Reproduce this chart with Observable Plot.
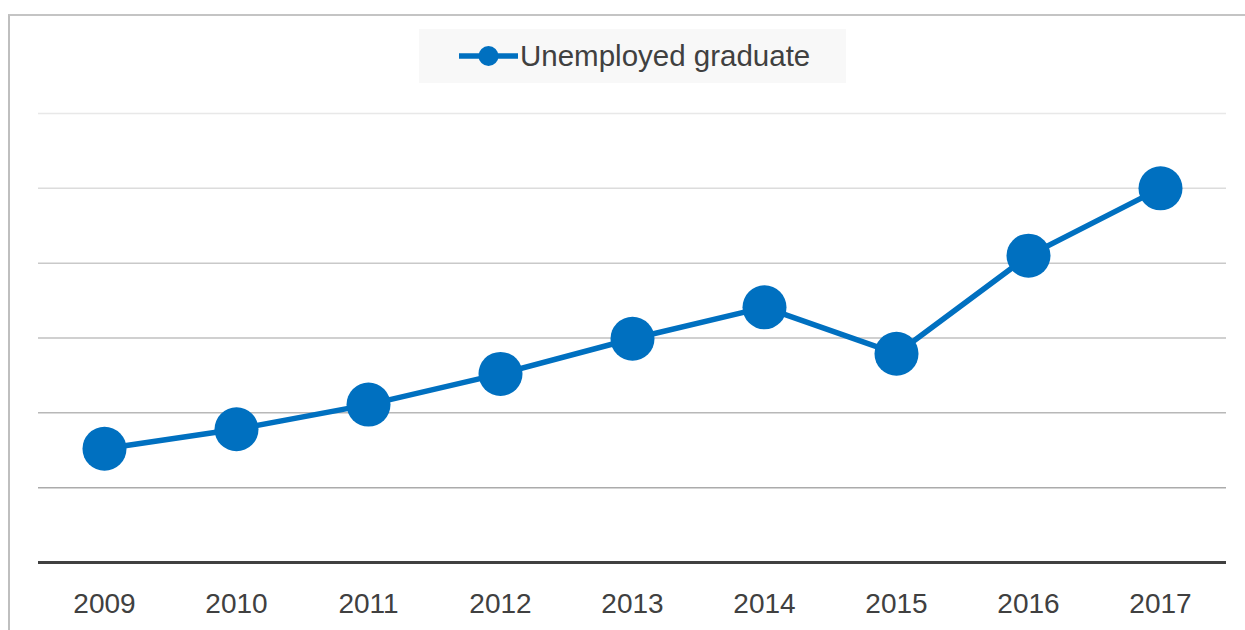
<!DOCTYPE html>
<html>
<head>
<meta charset="utf-8">
<script src="https://cdn.jsdelivr.net/npm/d3@7"></script>
<script src="https://cdn.jsdelivr.net/npm/@observablehq/plot@0.6"></script>
<style>
  html, body { margin: 0; padding: 0; background: #fff; }
  body { width: 1245px; height: 630px; overflow: hidden; position: relative;
         font-family: "Liberation Sans", Arial, sans-serif; }
  #frame { position: absolute; left: 8px; top: 14px; width: 1300px; height: 700px;
           border-left: 2px solid #bfbfbf; border-top: 2px solid #c4c4c4; box-sizing: border-box; }
  #legendRow { position: relative; height: 90px; }
  #legend { position: absolute; left: 419px; top: 29px; width: 427px; height: 54px;
            background: #f8f8f8; display: flex; align-items: center; }
  #legend svg { margin-left: 40px; }
  #legend span { font-size: 29.5px; color: #404040; margin-left: 2px; line-height: 1; position: relative; top: 0px; }
  #chart { position: relative; }
</style>
</head>
<body>
<div id="frame"></div>
<div id="legendRow">
  <div id="legend">
    <svg width="59" height="24"><line x1="1" y1="12" x2="58" y2="12" stroke="#0070C0" stroke-width="5.5" stroke-linecap="round"/><circle cx="29.5" cy="12" r="10" fill="#0070C0"/></svg>
    <span id="legendLabel"></span>
  </div>
</div>
<div id="chart"></div>
<script>
// ---- data ----
const seriesName = "Unemployed graduate";
const years = ["2009", "2010", "2011", "2012", "2013", "2014", "2015", "2016", "2017"];
const values = [1.52, 1.78, 2.11, 2.52, 2.99, 3.41, 2.79, 4.10, 5.00];
const gridTicks = [1, 2, 3, 4, 5, 6];

// ---- styles ----
const gridColors = ["#ababab", "#b8b8b8", "#c0c0c0", "#c9c9c9", "#dcdcdc", "#e8e8e8"];
const blue = "#0070C0";

document.getElementById("legendLabel").textContent = seriesName;

const data = years.map((y, i) => ({year: y, value: values[i]}));
const grid = gridTicks.map((t, i) => ({t, c: gridColors[i]}));

const chart = Plot.plot({
  width: 1245,
  height: 540,
  marginTop: 23,
  marginBottom: 68,
  marginLeft: 38,
  marginRight: 19,
  style: {fontFamily: "'Liberation Sans', Arial, sans-serif", background: "transparent"},
  x: {type: "band", domain: years, padding: 0, label: null},
  y: {domain: [0, 6], axis: null},
  color: {type: "identity"},
  marks: [
    Plot.ruleY(grid, {y: "t", stroke: "c", strokeWidth: 1.5}),
    Plot.ruleY([0], {stroke: "#404040", strokeWidth: 3}),
    Plot.axisX({tickSize: 0, tickPadding: 31, fontSize: 28, fill: "#404040", label: null}),
    Plot.line(data, {x: "year", y: "value", stroke: blue, strokeWidth: 5.5}),
    Plot.dot(data, {x: "year", y: "value", r: 22, fill: blue, stroke: "none"})
  ]
});
document.getElementById("chart").appendChild(chart);
</script>
</body>
</html>
